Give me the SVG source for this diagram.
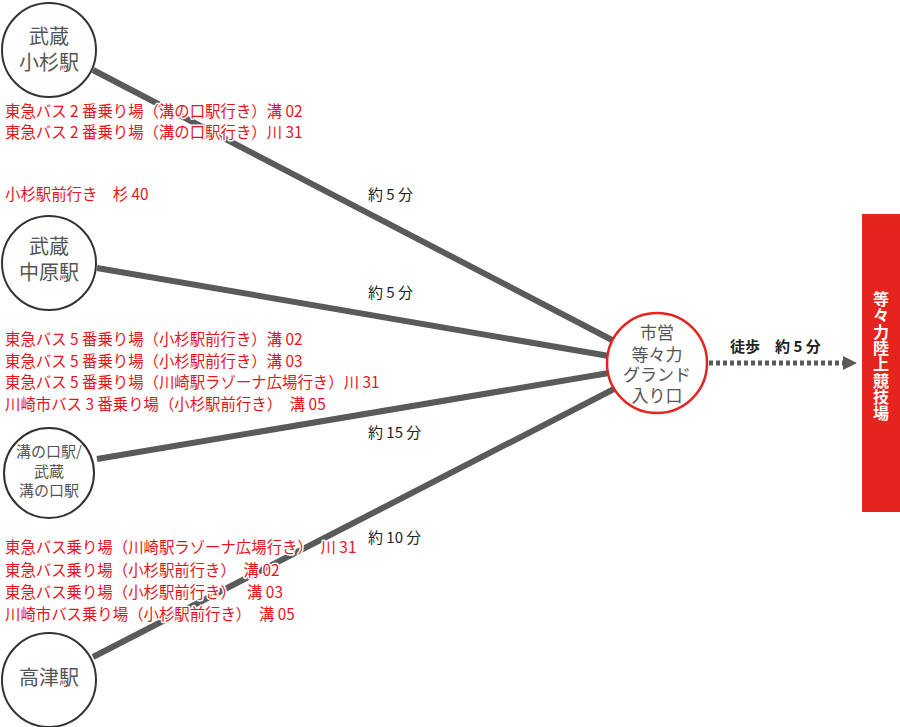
<svg xmlns="http://www.w3.org/2000/svg" width="900" height="727" viewBox="0 0 900 727">
<style>
text{font-family:"Noto Sans CJK JP","Noto Sans",sans-serif}
.st{fill:#fff;stroke:#333;stroke-width:2}
.nt{fill:#555;font-size:20px;text-anchor:middle}
.nts{fill:#555;font-size:15px;text-anchor:middle}
.ct{fill:#555;font-size:17px;text-anchor:middle}
.ln{stroke:#5a5a5a;stroke-width:6;fill:none}
.lb{fill:#222;font-size:15px}
.rd{fill:#e8141c;font-size:15.4px;stroke:#fff;stroke-width:3;paint-order:stroke;stroke-linejoin:round}
.vt{fill:#fff;font-size:16px;font-weight:bold}
</style>
<defs>
<marker id="ah" viewBox="0 0 10 10" refX="0" refY="5" markerWidth="14" markerHeight="14" markerUnits="userSpaceOnUse" orient="auto">
<path d="M0,0 L10,5 L0,10 Z" fill="#5a5a5a"/>
</marker>
</defs>
<rect width="900" height="727" fill="#fff"/>
<g id="connectors">
<line class="ln" x1="93" y1="70" x2="612" y2="340"/>
<line class="ln" x1="97" y1="268" x2="609" y2="356"/>
<line class="ln" x1="97" y1="459" x2="609" y2="373"/>
<line class="ln" x1="93" y1="657" x2="614" y2="389"/>
<line x1="709" y1="363" x2="843" y2="363" stroke="#5a5a5a" stroke-width="5" stroke-dasharray="4 3" marker-end="url(#ah)"/>
<text class="lb" x="368" y="200">約 5 分</text>
<text class="lb" x="368" y="298">約 5 分</text>
<text class="lb" x="368" y="438">約 15 分</text>
<text class="lb" x="368" y="543">約 10 分</text>
<text x="730" y="352" fill="#222" font-size="15" font-weight="bold">徒歩　約 5 分</text>
</g>
<g id="bus-info">
<text class="rd" x="5" y="117">東急バス 2 番乗り場（溝の口駅行き）溝 02</text>
<text class="rd" x="5" y="138">東急バス 2 番乗り場（溝の口駅行き）川 31</text>
<text class="rd" x="5" y="200">小杉駅前行き　杉 40</text>
<text class="rd" x="5" y="345">東急バス 5 番乗り場（小杉駅前行き）溝 02</text>
<text class="rd" x="5" y="367">東急バス 5 番乗り場（小杉駅前行き）溝 03</text>
<text class="rd" x="5" y="388">東急バス 5 番乗り場（川崎駅ラゾーナ広場行き）川 31</text>
<text class="rd" x="5" y="410">川崎市バス 3 番乗り場（小杉駅前行き）　溝 05</text>
<text class="rd" x="5" y="553">東急バス乗り場（川崎駅ラゾーナ広場行き）　川 31</text>
<text class="rd" x="5" y="576">東急バス乗り場（小杉駅前行き）　溝 02</text>
<text class="rd" x="5" y="598">東急バス乗り場（小杉駅前行き）　 溝 03</text>
<text class="rd" x="5" y="620">川崎市バス乗り場（小杉駅前行き）　溝 05</text>
</g>
<g id="musashi-kosugi">
<circle class="st" cx="49" cy="50" r="47"/>
<text class="nt" x="49" y="44">武蔵</text>
<text class="nt" x="49" y="70">小杉駅</text>
</g>
<g id="musashi-nakahara">
<circle class="st" cx="49" cy="263" r="47"/>
<text class="nt" x="49" y="254">武蔵</text>
<text class="nt" x="49" y="280">中原駅</text>
</g>
<g id="mizonokuchi">
<circle class="st" cx="49" cy="473" r="45"/>
<text class="nts" x="49" y="457">溝の口駅/</text>
<text class="nts" x="49" y="477">武蔵</text>
<text class="nts" x="49" y="496">溝の口駅</text>
</g>
<g id="takatsu">
<circle class="st" cx="49" cy="680" r="47"/>
<text class="nt" x="49" y="685">高津駅</text>
</g>
<g id="todoroki-entrance">
<circle cx="657" cy="363" r="50" fill="#fff" stroke="#e52420" stroke-width="2.5"/>
<text class="ct" x="657" y="339">市営</text>
<text class="ct" x="657" y="361">等々力</text>
<text class="ct" x="657" y="381" font-size="16">グランド</text>
<text class="ct" x="657" y="402">入り口</text>
</g>
<g id="stadium">
<rect x="862" y="214" width="40" height="298" fill="#e52420"/>
<text class="vt" x="881" y="291" writing-mode="vertical-rl" letter-spacing="0.3">等々力陸上競技場</text>
</g>
</svg>
